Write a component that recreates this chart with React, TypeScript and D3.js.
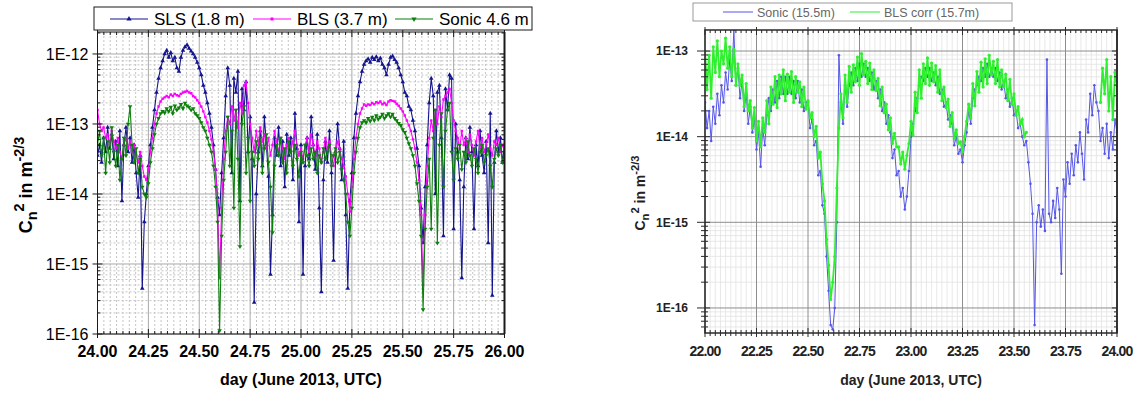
import * as d3 from 'd3';
import React, { useEffect, useRef } from 'react';

// values are log10(Cn2), one sample every 0.01 day
const leftStart = 24.0;
const leftStep = 0.01;

const slsLog = [
  -13.45, -13.30, -13.55, -13.20, -13.40, -13.05, -13.35, -13.15, -13.50, -13.25,
  -13.60, -13.10, -14.10, -13.30, -13.05, -13.40, -13.20, -13.55, -13.30, -13.70,
  -14.05, -13.45, -15.35, -14.40, -14.00, -13.60, -13.30, -13.05, -12.80, -12.55,
  -12.35, -12.20, -12.10, -12.00, -11.95, -12.05, -11.98, -12.10, -12.05, -12.20,
  -12.25, -12.05, -11.95, -11.90, -11.87, -11.92, -11.96, -12.00, -12.05, -12.12,
  -12.20, -12.30, -12.45, -12.55, -12.70, -12.85, -13.05, -13.30, -13.65, -14.05,
  -14.30, -13.70, -13.20, -12.60, -12.20, -12.45, -13.70, -12.35, -12.55, -12.25,
  -14.10, -12.50, -12.80, -12.40, -13.40, -12.90, -13.50, -15.55, -14.00, -13.40,
  -13.10, -13.60, -12.90, -13.30, -13.75, -15.15, -14.30, -13.20, -13.45, -13.05,
  -13.60, -13.25, -13.90, -13.15, -13.45, -13.20, -13.80, -12.85, -13.35, -14.40,
  -13.30, -15.15, -13.60, -13.20, -13.50, -12.90, -13.30, -13.65, -13.15, -14.20,
  -15.40, -13.80, -13.25, -13.55, -13.10, -13.70, -14.95, -13.40, -13.00, -13.35,
  -13.80, -13.25, -14.30, -15.35, -14.10, -13.70, -13.20, -12.85, -12.60, -12.40,
  -12.25, -12.15, -12.10, -12.07, -12.12, -12.05, -12.08, -12.04, -12.10, -12.06,
  -12.15, -12.20, -12.30, -12.15, -12.05, -12.03, -12.08, -12.12, -12.20, -12.30,
  -12.40, -12.55, -12.60, -12.75, -12.80, -12.95, -13.10, -13.35, -13.60, -14.20,
  -14.70, -13.90, -13.30, -12.70, -12.35, -12.60, -14.00, -12.55, -12.45, -13.20,
  -14.60, -12.50, -12.80, -12.30, -12.35, -14.50, -13.00, -13.40, -13.80, -15.20,
  -13.90, -13.20, -13.50, -13.05, -13.40, -14.50, -13.30, -13.60, -13.10, -13.45,
  -13.70, -13.25, -14.70, -12.85, -15.45, -13.55, -13.10, -13.40, -13.20, -13.55,
  -13.30,
];

const blsLog = [
  -12.80, -13.00, -13.10, -13.05, -13.20, -13.15, -13.30, -13.10, -13.25, -13.35,
  -13.20, -13.40, -13.50, -13.30, -13.20, -13.35, -13.25, -13.40, -13.30, -13.45,
  -13.55, -13.40, -13.60, -13.75, -13.80, -13.65, -13.40, -13.20, -13.00, -12.85,
  -12.75, -12.68, -12.64, -12.62, -12.60, -12.62, -12.58, -12.60, -12.57, -12.59,
  -12.60, -12.57, -12.55, -12.54, -12.53, -12.55, -12.56, -12.60, -12.62, -12.66,
  -12.70, -12.75, -12.82, -12.90, -12.98, -13.10, -13.22, -13.40, -13.65, -14.10,
  -15.20, -14.20, -13.50, -13.10, -12.90, -13.00, -12.75, -12.95, -12.80, -13.05,
  -12.70, -12.85, -12.45, -12.40, -12.70, -13.00, -13.20, -13.40, -13.10, -13.30,
  -13.05, -13.25, -13.15, -13.35, -13.20, -13.45, -13.30, -13.10, -13.25, -13.40,
  -13.20, -13.35, -13.50, -13.30, -13.20, -13.40, -13.25, -13.10, -13.30, -13.45,
  -13.35, -13.50, -13.30, -13.20, -13.40, -13.15, -13.30, -13.45, -13.25, -13.35,
  -13.55, -13.40, -13.20, -13.35, -13.25, -13.45, -13.60, -13.40, -13.25, -13.35,
  -13.50, -13.60, -13.75, -14.00, -14.25, -13.90, -13.50, -13.20, -13.00, -12.85,
  -12.78, -12.72, -12.74, -12.72, -12.73, -12.70, -12.72, -12.69, -12.70, -12.68,
  -12.72, -12.70, -12.73, -12.68, -12.66, -12.67, -12.68, -12.71, -12.74, -12.78,
  -12.82, -12.88, -12.95, -13.02, -13.10, -13.22, -13.35, -13.55, -13.80, -14.30,
  -15.30, -14.30, -13.60, -13.20, -12.95, -13.10, -12.80, -13.00, -12.75, -12.90,
  -12.65, -12.60, -12.55, -12.50, -12.70, -12.95, -13.10, -13.20, -13.35, -13.10,
  -13.30, -13.20, -13.40, -13.15, -13.30, -13.45, -13.25, -13.10, -13.35, -13.20,
  -13.40, -13.30, -13.15, -13.35, -13.45, -13.25, -13.30, -13.20, -13.40, -13.30,
  -13.35,
];

const sonicLog = [
  -13.30, -13.10, -13.45, -13.20, -13.70, -13.25, -13.55, -13.05, -13.40, -13.60,
  -13.30, -13.80, -13.50, -13.20, -13.45, -13.00, -12.75, -13.30, -13.55, -13.35,
  -13.70, -13.50, -13.90, -14.00, -14.05, -13.85, -13.55, -13.35, -13.15, -13.00,
  -12.92, -12.85, -12.82, -12.84, -12.78, -12.82, -12.76, -12.85, -12.74, -12.80,
  -12.77, -12.72, -12.78, -12.70, -12.74, -12.76, -12.80, -12.78, -12.85, -12.88,
  -12.92, -12.98, -13.05, -13.10, -13.20, -13.30, -13.40, -13.60, -13.90, -14.40,
  -15.95, -14.60, -13.80, -13.40, -12.90, -13.60, -13.10, -14.20, -12.80, -13.50,
  -14.75, -13.00, -12.75, -13.70, -13.20, -14.10, -13.40, -13.60, -13.25, -13.50,
  -13.20, -13.70, -13.35, -13.15, -13.55, -13.90, -14.55, -13.60, -13.30, -13.45,
  -13.20, -13.55, -13.35, -13.70, -13.25, -13.40, -13.60, -13.30, -13.50, -13.75,
  -13.40, -13.55, -13.30, -13.45, -13.60, -13.35, -13.50, -13.40, -13.70, -13.45,
  -13.55, -13.35, -13.50, -13.40, -13.30, -13.60, -13.45, -13.35, -13.55, -13.40,
  -13.65, -13.80, -14.00, -14.40, -14.60, -14.20, -13.70, -13.40, -13.20, -13.05,
  -12.98, -12.95, -12.98, -12.92, -12.96, -12.90, -12.95, -12.88, -12.93, -12.90,
  -12.86, -12.92, -12.88, -12.85, -12.90, -12.86, -12.92, -12.95, -12.99, -13.02,
  -13.08, -13.12, -13.20, -13.28, -13.35, -13.45, -13.60, -13.85, -14.10, -14.60,
  -15.65, -14.50, -13.90, -13.50, -14.50, -13.20, -12.80, -14.70, -13.30, -12.85,
  -13.90, -13.10, -12.80, -12.70, -13.40, -13.80, -13.35, -13.50, -13.30, -13.65,
  -13.40, -13.55, -13.25, -13.45, -13.60, -13.35, -13.50, -13.70, -13.40, -13.30,
  -13.55, -13.45, -13.35, -13.60, -13.90, -13.50, -13.35, -13.45, -13.30, -13.55,
  -13.40,
];

const rightStart = 22.0;
const rightStep = 0.01;

const sonic155Log = [
  -13.60, -13.90, -13.70, -14.05, -13.65, -13.85, -13.50, -13.75, -13.40, -13.60,
  -13.25, -13.45, -13.10, -13.35, -12.75, -13.40, -13.20, -13.55, -13.35, -13.70,
  -13.50, -13.85, -13.65, -13.95, -13.80, -14.15, -13.95, -14.35, -13.90, -14.10,
  -13.75, -13.55, -13.70, -13.45, -13.60, -13.35, -13.55, -13.30, -13.50, -13.30,
  -13.50, -13.30, -13.50, -13.35, -13.55, -13.35, -13.60, -13.45, -13.70, -13.60,
  -13.60, -13.90, -13.80, -14.10, -14.05, -14.45, -14.40, -14.80, -14.90, -15.40,
  -15.80, -16.20, -16.25, -16.00, -15.00, -13.05, -13.60, -13.85, -13.40, -13.65,
  -13.40, -13.25, -13.40, -13.20, -13.35, -13.15, -13.30, -13.15, -13.30, -13.20,
  -13.35, -13.25, -13.45, -13.35, -13.55, -13.45, -13.70, -13.60, -13.85, -13.75,
  -13.95, -14.25, -14.15, -14.45, -14.40, -14.70, -14.60, -14.85, -14.70, -14.40,
  -14.00, -13.85, -13.70, -13.55, -13.40, -13.30, -13.35, -13.20, -13.30, -13.20,
  -13.35, -13.25, -13.40, -13.30, -13.50, -13.45, -13.65, -13.60, -13.80, -13.75,
  -13.85, -14.10, -14.00, -14.20, -14.15, -14.30, -14.10, -13.95, -13.70, -13.85,
  -13.55, -13.45, -13.40, -13.30, -13.35, -13.20, -13.30, -13.15, -13.30, -13.20,
  -13.30, -13.20, -13.35, -13.25, -13.45, -13.35, -13.55, -13.45, -13.65, -13.55,
  -13.75, -13.70, -13.90, -13.85, -14.00, -14.10, -14.05, -14.30, -14.55, -14.90,
  -16.20, -15.00, -14.80, -15.05, -14.85, -15.10, -13.10, -14.90, -15.00, -14.75,
  -14.95, -14.60, -14.85, -15.60, -14.50, -14.70, -14.30, -14.55, -14.20, -14.45,
  -14.10, -14.30, -13.95, -14.20, -14.50, -13.80, -13.95, -13.50, -13.75, -13.40,
  -13.60, -13.70, -14.05, -13.90, -14.20, -13.85, -14.25, -13.95, -14.15, -13.80,
  -13.95,
];

// null = no BLS data
const blsCorrLog: (number | null)[] = [
  -13.00, -13.45, -13.05, -13.55, -12.95, -13.25, -12.88, -13.30, -13.00, -13.15,
  -12.85, -13.20, -12.95, -13.30, -12.98, -13.40, -13.15, -13.40, -13.28, -13.65,
  -13.38, -13.70, -13.58, -13.90, -13.66, -14.05, -13.82, -14.12, -13.78, -13.95,
  -13.58, -13.85, -13.42, -13.62, -13.30, -13.66, -13.28, -13.50, -13.22, -13.58,
  -13.27, -13.48, -13.24, -13.60, -13.30, -13.48, -13.36, -13.65, -13.42, -13.68,
  -13.58, -13.78, -13.72, -14.00, -13.88, -14.25, -14.18, -14.55, -14.75, -15.20,
  -15.50, -15.90, -15.70, -15.40, -14.60, -13.90, -13.50, -13.78, -13.28, -13.60,
  -13.18, -13.48, -13.16, -13.36, -13.07, -13.40, -13.03, -13.28, -13.12, -13.38,
  -13.14, -13.45, -13.22, -13.46, -13.32, -13.64, -13.42, -13.72, -13.62, -13.92,
  -13.78, -14.08, -13.96, -14.12, -14.12, -14.32, -14.18, -14.38, -14.22, -14.08,
  -13.82, -13.98, -13.48, -13.72, -13.22, -13.55, -13.15, -13.38, -13.08, -13.40,
  -13.14, -13.36, -13.17, -13.48, -13.22, -13.58, -13.42, -13.66, -13.56, -13.88,
  -13.72, -14.02, -13.92, -14.08, -14.06, -14.18, -14.00, -13.82, -13.62, -13.78,
  -13.38, -13.64, -13.24, -13.48, -13.13, -13.42, -13.09, -13.38, -13.05, -13.28,
  -13.12, -13.38, -13.10, -13.42, -13.22, -13.42, -13.27, -13.58, -13.33, -13.62,
  -13.50, -13.75, -13.65, -13.85, -13.80, -14.00, -13.95, null, null, null,
  null, null, null, null, null, null, null, null, null, null,
  null, null, null, null, null, null, null, null, null, null,
  null, null, null, null, null, null, null, null, null, null,
  null, null, -13.60, -13.20, -13.50, -13.10, -13.70, -13.30, -13.80, -13.25,
  -13.40,
];

const leftXTicks = [24.0, 24.25, 24.5, 24.75, 25.0, 25.25, 25.5, 25.75, 26.0];
const rightXTicks = [22.0, 22.25, 22.5, 22.75, 23.0, 23.25, 23.5, 23.75, 24.0];
const leftYTicks = [1e-16, 1e-15, 1e-14, 1e-13, 1e-12];
const rightYTicks = [1e-16, 1e-15, 1e-14, 1e-13];
const leftLegend = ['SLS (1.8 m)', 'BLS (3.7 m)', 'Sonic 4.6 m'];
const rightLegend = ['Sonic (15.5m)', 'BLS corr (15.7m)'];
const xTitle = 'day (June 2013, UTC)';

const FONT = '"Liberation Sans", Arial, sans-serif';

function logMinors(lo: number, hi: number) {
  const out: number[] = [];
  for (let e = Math.floor(Math.log10(lo)); e <= Math.ceil(Math.log10(hi)); e++) {
    for (let k = 2; k <= 9; k++) {
      const v = k * Math.pow(10, e);
      if (v > lo && v < hi) out.push(v);
    }
  }
  return out;
}

function toPoints(logs: (number | null)[], start: number, step: number) {
  return logs.map((v, i) => ({ t: start + i * step, v: v == null ? null : Math.pow(10, v) }));
}

function yLabel(svg: any, x: number, y: number, fs: number, color: string) {
  const t = svg.append('text')
    .attr('transform', `translate(${x},${y}) rotate(-90)`)
    .attr('text-anchor', 'middle')
    .attr('font-family', FONT)
    .attr('font-weight', 'bold')
    .attr('font-size', fs)
    .attr('fill', color);
  t.append('tspan').text('C');
  t.append('tspan').attr('dy', fs * 0.3).attr('font-size', fs * 0.8).text('n');
  t.append('tspan').attr('dy', -fs * 0.75).attr('font-size', fs * 0.8).text('2');
  t.append('tspan').attr('dy', fs * 0.45).text(' in m');
  t.append('tspan').attr('dy', -fs * 0.45).attr('font-size', fs * 0.8).text('-2/3');
}

function frame(svg: any, x: any, y: any, opts: any) {
  const [x0, x1] = x.range();
  const [yb, yt] = y.range();
  const [t0, t1] = x.domain();
  const [v0, v1] = y.domain();
  const g = svg.append('g');

  const xMinor = d3.range(t0, t1 + 1e-9, opts.xMinorStep)
    .filter((t: number) => !opts.xTicks.some((m: number) => Math.abs(m - t) < 1e-6));
  const yMinor = logMinors(v0, v1);

  // minor grid
  g.selectAll('.vmin').data(xMinor).join('line')
    .attr('x1', (d: number) => x(d)).attr('x2', (d: number) => x(d))
    .attr('y1', yt).attr('y2', yb)
    .attr('stroke', opts.minorGrid).attr('stroke-width', opts.minorWidth)
    .attr('stroke-dasharray', opts.minorDash);
  g.selectAll('.hmin').data(yMinor).join('line')
    .attr('x1', x0).attr('x2', x1)
    .attr('y1', (d: number) => y(d)).attr('y2', (d: number) => y(d))
    .attr('stroke', opts.minorGrid).attr('stroke-width', opts.minorWidth)
    .attr('stroke-dasharray', opts.minorDash);
  // major grid
  g.selectAll('.vmaj').data(opts.xTicks).join('line')
    .attr('x1', (d: number) => x(d)).attr('x2', (d: number) => x(d))
    .attr('y1', yt).attr('y2', yb)
    .attr('stroke', opts.majorGrid).attr('stroke-width', 1);
  g.selectAll('.hmaj').data(opts.yTicks).join('line')
    .attr('x1', x0).attr('x2', x1)
    .attr('y1', (d: number) => y(d)).attr('y2', (d: number) => y(d))
    .attr('stroke', opts.majorGrid).attr('stroke-width', 1);

  return { xMinor, yMinor };
}

function axes(svg: any, x: any, y: any, opts: any, minors: any) {
  const [x0, x1] = x.range();
  const [yb, yt] = y.range();
  const g = svg.append('g').attr('stroke', opts.axisColor).attr('fill', 'none');
  const tick = (a: number, b: number, c: number, d: number, w = 1) =>
    g.append('line').attr('x1', a).attr('y1', b).attr('x2', c).attr('y2', d).attr('stroke-width', w);

  opts.xTicks.forEach((t: number) => {
    tick(x(t), yb - 5, x(t), yb + 4);
    tick(x(t), yt + 5, x(t), yt - 3);
  });
  minors.xMinor.forEach((t: number) => {
    tick(x(t), yb - 3, x(t), yb + opts.minorOut);
    tick(x(t), yt + 3, x(t), yt);
  });
  opts.yTicks.forEach((v: number) => {
    tick(x0 - opts.yMajorOut, y(v), x0 + 5, y(v));
    tick(x1 - 5, y(v), x1, y(v));
  });
  minors.yMinor.forEach((v: number) => {
    tick(x0 - opts.yMinorOut, y(v), x0 + 3, y(v));
    tick(x1 - 3, y(v), x1, y(v));
  });

  g.append('rect').attr('x', x0).attr('y', yt).attr('width', x1 - x0).attr('height', yb - yt)
    .attr('stroke-width', opts.frameWidth);
  tick(x1, yt, x1, yb, opts.rightWidth);

  const lab = svg.append('g').attr('font-family', FONT).attr('fill', opts.textColor);
  lab.selectAll('.xl').data(opts.xTicks).join('text')
    .attr('x', (d: number) => x(d)).attr('y', yb + 23)
    .attr('text-anchor', 'middle').attr('font-weight', 'bold')
    .attr('font-size', opts.xFont).attr('letter-spacing', opts.xSpacing)
    .text((d: number) => d.toFixed(2));
  lab.selectAll('.yl').data(opts.yTicks).join('text')
    .attr('x', x0 - opts.yLabelGap).attr('y', (d: number) => y(d))
    .attr('dy', '0.35em').attr('text-anchor', 'end')
    .attr('font-weight', opts.yWeight).attr('font-size', opts.yFont)
    .text((d: number) => `1E${Math.round(Math.log10(d))}`);
  lab.append('text')
    .attr('x', (x0 + x1) / 2).attr('y', opts.titleY)
    .attr('text-anchor', 'middle').attr('font-weight', 'bold').attr('font-size', opts.titleFont)
    .text(xTitle);
}

export default function App() {
  const ref = useRef<SVGSVGElement>(null);

  useEffect(() => {
    const svg = d3.select(ref.current as SVGSVGElement);
    svg.selectAll('*').remove();

    // ---------- left panel ----------
    const xL = d3.scaleLinear().domain([24, 26]).range([97.5, 504.5]);
    const yL = d3.scaleLog().domain([1e-16, 2.06e-12]).range([334, 32]);
    const leftOpts = {
      xTicks: leftXTicks, yTicks: leftYTicks, xMinorStep: 0.03125,
      minorGrid: '#c4c4c4', minorWidth: 1, minorDash: '2,2', majorGrid: '#a8a8a8',
      axisColor: '#1a1a1a', frameWidth: 1, rightWidth: 2, minorOut: 0,
      yMajorOut: 5, yMinorOut: 0, textColor: '#000',
      xFont: 16, xSpacing: 0, yFont: 16, yWeight: 'normal', yLabelGap: 9,
      titleY: 385, titleFont: 16,
    };
    const mL = frame(svg, xL, yL, leftOpts);

    svg.append('defs').append('clipPath').attr('id', 'clipL').append('rect')
      .attr('x', 97.5).attr('y', 32).attr('width', 407).attr('height', 302);
    svg.select('defs').append('clipPath').attr('id', 'clipR').append('rect')
      .attr('x', 705).attr('y', 30).attr('width', 412).attr('height', 303);

    const lineL = d3.line<any>().defined((d) => d.v != null).x((d) => xL(d.t)).y((d) => yL(d.v));
    const leftSeries = [
      { data: toPoints(slsLog, leftStart, leftStep), color: '#14148f', sym: d3.symbolTriangle, rot: 0, size: 9 },
      { data: toPoints(blsLog, leftStart, leftStep), color: '#ff00ff', sym: d3.symbolSquare, rot: 0, size: 6 },
      { data: toPoints(sonicLog, leftStart, leftStep), color: '#0d7f0d', sym: d3.symbolTriangle, rot: 180, size: 9 },
    ];
    const plotL = svg.append('g').attr('clip-path', 'url(#clipL)');
    leftSeries.forEach((s) => {
      plotL.append('path').datum(s.data).attr('d', lineL)
        .attr('fill', 'none').attr('stroke', s.color).attr('stroke-width', 1.1);
      plotL.append('g').selectAll('path').data(s.data).join('path')
        .attr('d', d3.symbol().type(s.sym).size(s.size) as any)
        .attr('transform', (d: any) => `translate(${xL(d.t)},${yL(d.v)}) rotate(${s.rot})`)
        .attr('fill', s.color);
    });
    axes(svg, xL, yL, leftOpts, mL);
    yLabel(svg, 32, 185, 18, '#000');

    // left legend
    const lg = svg.append('g').attr('font-family', FONT);
    lg.append('rect').attr('x', 94).attr('y', 7).attr('width', 438).attr('height', 23)
      .attr('fill', '#fff').attr('stroke', '#1a1a1a');
    const legX = [110, 253, 395];
    leftLegend.forEach((name, i) => {
      const s = leftSeries[i];
      const lx = legX[i];
      lg.append('line').attr('x1', lx).attr('x2', lx + 38).attr('y1', 19).attr('y2', 19)
        .attr('stroke', s.color).attr('stroke-width', 1.2);
      lg.append('path').attr('d', d3.symbol().type(s.sym).size(s.size + 3)() as string)
        .attr('transform', `translate(${lx + 19},19) rotate(${s.rot})`).attr('fill', s.color);
      lg.append('text').attr('x', lx + 44).attr('y', 25).attr('font-size', 17).attr('fill', '#000').text(name);
    });

    // ---------- right panel ----------
    const xR = d3.scaleLinear().domain([22, 24]).range([705, 1117]);
    const yR = d3.scaleLog().domain([5.1e-17, 1.76e-13]).range([333, 30]);
    const rightOpts = {
      xTicks: rightXTicks, yTicks: rightYTicks, xMinorStep: 0.025,
      minorGrid: '#e2e2e2', minorWidth: 0.8, minorDash: null, majorGrid: '#8e8e8e',
      axisColor: '#2a2a2a', frameWidth: 1.5, rightWidth: 1.5, minorOut: 3,
      yMajorOut: 8, yMinorOut: 4, textColor: '#222',
      xFont: 14, xSpacing: -0.8, yFont: 12, yWeight: 'bold', yLabelGap: 17,
      titleY: 385, titleFont: 14,
    };
    const mR = frame(svg, xR, yR, rightOpts);

    const lineR = d3.line<any>().defined((d) => d.v != null).x((d) => xR(d.t)).y((d) => yR(d.v));
    const rightSeries = [
      { data: toPoints(sonic155Log, rightStart, rightStep), color: '#5656e8', width: 1, r: 1.3 },
      { data: toPoints(blsCorrLog, rightStart, rightStep), color: '#2ff02f', width: 1.8, r: 1.6 },
    ];
    const plotR = svg.append('g').attr('clip-path', 'url(#clipR)');
    rightSeries.forEach((s) => {
      plotR.append('path').datum(s.data).attr('d', lineR)
        .attr('fill', 'none').attr('stroke', s.color).attr('stroke-width', s.width);
      plotR.append('g').selectAll('circle').data(s.data.filter((d) => d.v != null)).join('circle')
        .attr('cx', (d: any) => xR(d.t)).attr('cy', (d: any) => yR(d.v))
        .attr('r', s.r).attr('fill', s.color);
    });
    axes(svg, xR, yR, rightOpts, mR);
    yLabel(svg, 645, 193, 14, '#222');

    // right legend
    const rg = svg.append('g').attr('font-family', FONT);
    rg.append('rect').attr('x', 693).attr('y', 3).attr('width', 319).attr('height', 18)
      .attr('fill', '#fff').attr('stroke', '#999');
    const rLegX = [723, 850];
    rightLegend.forEach((name, i) => {
      const lx = rLegX[i];
      rg.append('line').attr('x1', lx).attr('x2', lx + 30).attr('y1', 12).attr('y2', 12)
        .attr('stroke', rightSeries[i].color).attr('stroke-width', 1);
      rg.append('text').attr('x', lx + 34).attr('y', 16.5).attr('font-size', 12.5)
        .attr('fill', '#666').text(name);
    });
  }, []);

  return (
    <svg
      ref={ref}
      width={1137}
      height={393}
      style={{ position: 'absolute', left: 0, top: 0, background: '#fff' }}
    />
  );
}
